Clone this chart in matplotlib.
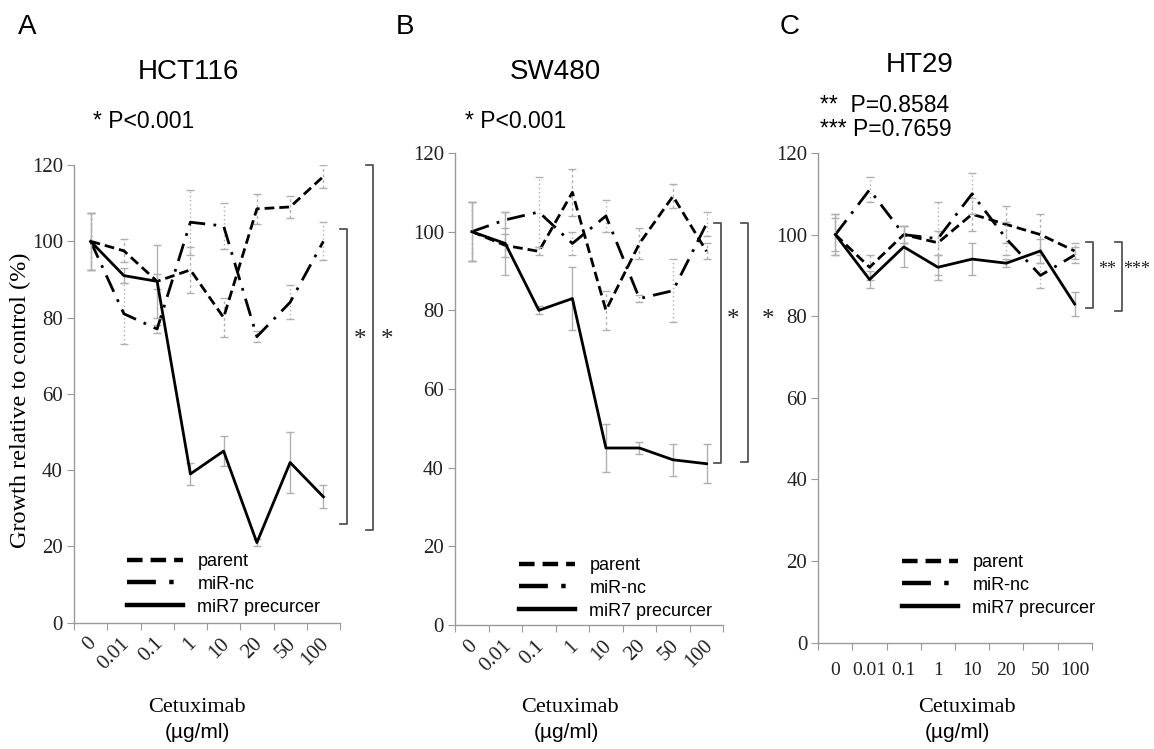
import matplotlib
matplotlib.use("Agg")
import matplotlib.pyplot as plt
import matplotlib.transforms as mtransforms
import numpy as np

# Cetuximab concentrations (µg/ml), used as categories
conc = ["0", "0.01", "0.1", "1", "10", "20", "50", "100"]

# A: HCT116
a_parent = [100, 97.5, 89.5, 92.5, 80, 108.5, 109, 117]
a_parent_err = [7.5, 3, 2, 6, 5, 4, 3, 3]
a_nc = [100, 81, 77, 105, 104, 75, 84, 100]
a_nc_err = [7.5, 8, 1, 8.5, 6, 1.5, 4.5, 5]
a_mir7 = [100, 91, 89.5, 39, 45, 21, 42, 33]
a_mir7_err = [7.5, 2, 9.5, 3, 4, 1, 8, 3]

# B: SW480
b_parent = [100, 96.5, 95, 110, 80, 97, 109, 95]
b_parent_err = [7.5, 3, 1, 6, 5, 4, 3, 2]
b_nc = [100, 103, 105, 97, 104, 83, 85, 102]
b_nc_err = [7.5, 2, 9, 3, 4, 1, 8, 3]
b_mir7 = [100, 97, 80, 83, 45, 45, 42, 41]
b_mir7_err = [7.5, 8, 1, 8, 6, 1.5, 4, 5]

# C: HT29
c_parent = [100, 92, 100, 98, 105, 102.5, 100, 96]
c_parent_err = [4, 3, 2, 3, 4, 4.5, 5, 2]
c_nc = [100, 111, 100, 99, 110, 99, 90, 95]
c_nc_err = [5, 3, 2, 9, 5, 4, 3, 2]
c_mir7 = [100, 89, 97, 92, 94, 93, 96, 83]
c_mir7_err = [5, 2, 5, 3, 4, 1, 3, 3]

series_names = ["parent", "miR-nc", "miR7 precurcer"]

SANS = "Liberation Sans"
SERIF = "Liberation Serif"
GRAY = "#9a9a9a"

W, H = 1154, 749
fig = plt.figure(figsize=(W / 100, H / 100), dpi=100)


def px(x, y):
    return x / W, 1 - y / H


def make_axes(left, right, top, bottom):
    return fig.add_axes([left / W, 1 - bottom / H, (right - left) / W, (bottom - top) / H])


def draw_panel(ax, data, rotate):
    x = np.arange(len(conc))
    styles = [
        dict(ls=(0, (3.5, 1.8)), err_ls=(0, (2, 2))),
        dict(ls=(0, (6.5, 3, 1, 3)), err_ls=(0, (1, 2))),
        dict(ls="-", err_ls="-"),
    ]
    for (vals, errs), name, st in zip(data, series_names, styles):
        eb = ax.errorbar(x, vals, yerr=errs, fmt="none", ecolor="#b0b0b0",
                         elinewidth=1, capsize=3, capthick=1)
        eb[2][0].set_linestyle(st["err_ls"])
        ax.plot(x, vals, color="black", lw=2.0, ls=st["ls"], label=name)

    ax.set_xlim(-0.5, len(conc) - 0.5)
    ax.set_ylim(0, 120)
    ax.set_yticks(range(0, 121, 20))
    for s in ["top", "right"]:
        ax.spines[s].set_visible(False)
    for s in ["left", "bottom"]:
        ax.spines[s].set_color(GRAY)
        ax.spines[s].set_linewidth(1)

    ax.set_xticks(np.arange(-0.5, len(conc)), [])
    ax.tick_params(axis="x", which="major", length=5, color=GRAY)
    ax.set_xticks(x, conc, minor=True)
    ax.tick_params(axis="y", length=5, color=GRAY, pad=3, labelsize=15,
                   labelcolor="#222222")
    for lab in ax.get_yticklabels():
        lab.set_fontfamily(SERIF)

    if rotate:
        ax.tick_params(axis="x", which="minor", length=0, pad=13)
        off = mtransforms.ScaledTranslation(3 / 100, 0, fig.dpi_scale_trans)
        for lab in ax.get_xticklabels(minor=True):
            lab.set_rotation(45)
            lab.set_rotation_mode("anchor")
            lab.set_ha("right")
            lab.set_va("center")
            lab.set_fontsize(15)
            lab.set_fontfamily(SERIF)
            lab.set_color("#222222")
            lab.set_transform(lab.get_transform() + off)
    else:
        ax.tick_params(axis="x", which="minor", length=0, pad=14)
        for lab in ax.get_xticklabels(minor=True):
            lab.set_fontsize(14)
            lab.set_fontfamily(SERIF)
            lab.set_color("#222222")


def bracket(ax, xf, y0, y1, tick=0.026):
    tr = mtransforms.blended_transform_factory(ax.transAxes, ax.transData)
    ax.plot([xf - tick, xf, xf, xf - tick], [y1, y1, y0, y0], transform=tr,
            clip_on=False, color="#555555", lw=1.3)


def star(ax, xf, y, s, size=18, family=SERIF):
    tr = mtransforms.blended_transform_factory(ax.transAxes, ax.transData)
    ax.text(xf, y, s, transform=tr, ha="center", va="center",
            fontsize=size, family=family, color="#222222", clip_on=False)


def legend(ax, x, y):
    leg = ax.legend(loc="upper left", bbox_to_anchor=px(x, y), bbox_transform=fig.transFigure,
                    frameon=False, borderpad=0, handlelength=3.1, handletextpad=0.8,
                    labelspacing=0.32, prop=dict(family=SANS, size=13))
    for h in leg.legend_handles:
        h.set_linewidth(3.2)


# Panel A
axA = make_axes(74, 340, 165, 622.7)
draw_panel(axA, [(a_parent, a_parent_err), (a_nc, a_nc_err), (a_mir7, a_mir7_err)], True)
bracket(axA, 1.025, 25.9, 103.1)
bracket(axA, 1.125, 24.3, 120)
star(axA, 1.075, 74, "*")
star(axA, 1.176, 74, "*")
legend(axA, 118, 544)

# Panel B
axB = make_axes(455, 723.3, 153, 625)
draw_panel(axB, [(b_parent, b_parent_err), (b_nc, b_nc_err), (b_mir7, b_mir7_err)], True)
bracket(axB, 0.99, 41.1, 102.1)
bracket(axB, 1.093, 41.5, 102.1)
star(axB, 1.036, 77.5, "*")
star(axB, 1.167, 77.5, "*")
legend(axB, 510, 548)

# Panel C
axC = make_axes(818.3, 1091.7, 153, 642.7)
draw_panel(axC, [(c_parent, c_parent_err), (c_nc, c_nc_err), (c_mir7, c_mir7_err)], False)
bracket(axC, 1.006, 82.1, 98.1)
bracket(axC, 1.11, 81.3, 98.1)
star(axC, 1.056, 91.5, "**", size=13)
star(axC, 1.166, 91.5, "***", size=13)
legend(axC, 893, 545)

# Text
for letter, x in [("A", 27), ("B", 405), ("C", 790)]:
    fig.text(*px(x, 27), letter, ha="center", va="center", fontsize=20, family=SANS)
for title, x, y in [("HCT116", 188, 72), ("SW480", 555, 72), ("HT29", 920, 65)]:
    fig.text(*px(x, y), title, ha="center", va="center", fontsize=20, family=SANS)
fig.text(*px(93, 122), "* P<0.001", ha="left", va="center", fontsize=16.5, family=SANS)
fig.text(*px(465, 122), "* P<0.001", ha="left", va="center", fontsize=16.5, family=SANS)
fig.text(*px(820, 105), "**  P=0.8584", ha="left", va="center", fontsize=16.5, family=SANS)
fig.text(*px(820, 130), "*** P=0.7659", ha="left", va="center", fontsize=16.5, family=SANS)

fig.text(*px(20, 400), "Growth relative to control (%)", rotation=90, ha="center",
         va="center", fontsize=17.5, family=SERIF)
for x, x2 in [(197, 197), (570, 566), (967, 957)]:
    fig.text(*px(x, 707), "Cetuximab", ha="center", va="center", fontsize=16, family=SERIF)
    fig.text(*px(x2, 733), "(\u00b5g/ml)", ha="center", va="center", fontsize=15, family=SANS)

fig.savefig("out.png", dpi=100)
